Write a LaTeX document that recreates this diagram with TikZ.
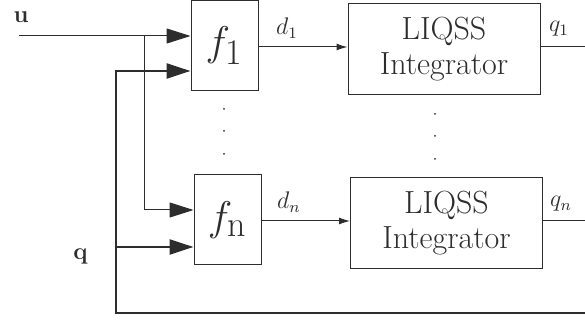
\documentclass[tikz,border=0pt]{standalone}
\usetikzlibrary{arrows.meta,positioning}
\definecolor{wire}{RGB}{45,45,45}

\tikzset{
  fblock/.style={draw=wire,line width=0.5pt,minimum width=33.5pt,minimum height=45pt,inner sep=0pt,text=wire,font=\fontsize{21}{21}\selectfont},
  intblock/.style={draw=wire,line width=0.5pt,minimum width=96pt,minimum height=45.5pt,inner sep=0pt,align=center,text=wire,font=\fontsize{16}{17.5}\selectfont},
  thinwire/.style={draw=wire,line width=0.5pt},
  thickwire/.style={draw=wire,line width=1.3pt},
  bigtip/.style={-{Triangle[length=12pt,width=7.5pt]}},
  smalltip/.style={-{Latex[length=5.5pt,width=3.5pt]}},
  sig/.style={font=\fontsize{12}{12}\selectfont,inner sep=0pt,text=wire},
  vec/.style={font=\fontsize{12}{12}\selectfont,inner sep=0pt,text=wire},
}
\newcommand{\fsub}[1]{\mbox{\fontsize{18}{18}\selectfont #1}}

\begin{document}
\begin{tikzpicture}[x=0.5pt,y=-0.5pt]
  \useasboundingbox (0,0) rectangle (585,320);

  % blocks
  \node[fblock] (f1) at (224.5,45.5) {$f_{\fsub{1}}$};
  \node[fblock] (fn) at (227.5,220) {$f_{\fsub{n}}$};
  \node[intblock] (int1) at (444,49) {LIQSS\\Integrator};
  \node[intblock] (intn) at (446.5,223) {LIQSS\\Integrator};

  % inputs and branch points
  \coordinate (uin) at (19,36);
  \coordinate (usplit) at (144,36);
  \coordinate (qcorner) at (116,313);
  \coordinate (qend) at (585,313);
  \coordinate (q1end) at (585,47);
  \coordinate (qnend) at (585,221);
  \path (fn.west) ++(0,-10) coordinate (fnu);
  \path (f1.west) ++(0,25.5) coordinate (f1q);
  \path (fn.west) ++(0,27) coordinate (fnq);

  % u input
  \draw[thinwire,bigtip] (uin) -- (uin -| f1.west);
  \draw[thinwire,bigtip] (usplit) |- (fnu);

  % q feedback
  \draw[thickwire,bigtip] (qend) -- (qcorner) |- (f1q);
  \draw[thickwire,bigtip] (qcorner |- fnq) -- (fnq);

  % derivatives and outputs
  \draw[thinwire,smalltip] (f1.east |- q1end) -- (int1.west |- q1end);
  \draw[thinwire,smalltip] (fn.east |- qnend) -- (intn.west |- qnend);
  \draw[thinwire] (int1.east |- q1end) -- (q1end);
  \draw[thinwire] (intn.east |- qnend) -- (qnend);

  % labels
  \node[vec] (ulbl) at (21,17) {$\mathbf{u}$};
  \node[vec] (qlbl) at (80.5,257) {$\mathbf{q}$};
  \node[sig] (d1lbl) at (287,28) {$d_1$};
  \node[sig] (dnlbl) at (289,202) {$d_n$};
  \node[sig] (q1lbl) at (559,29) {$q_1$};
  \node[sig] (qnlbl) at (561,204) {$q_n$};

  % vertical dots
  \foreach \y in {109,131,154} \fill[wire] (224,\y) circle (0.5pt);
  \foreach \y in {114,136,159} \fill[wire] (435,\y) circle (0.5pt);
\end{tikzpicture}
\end{document}
